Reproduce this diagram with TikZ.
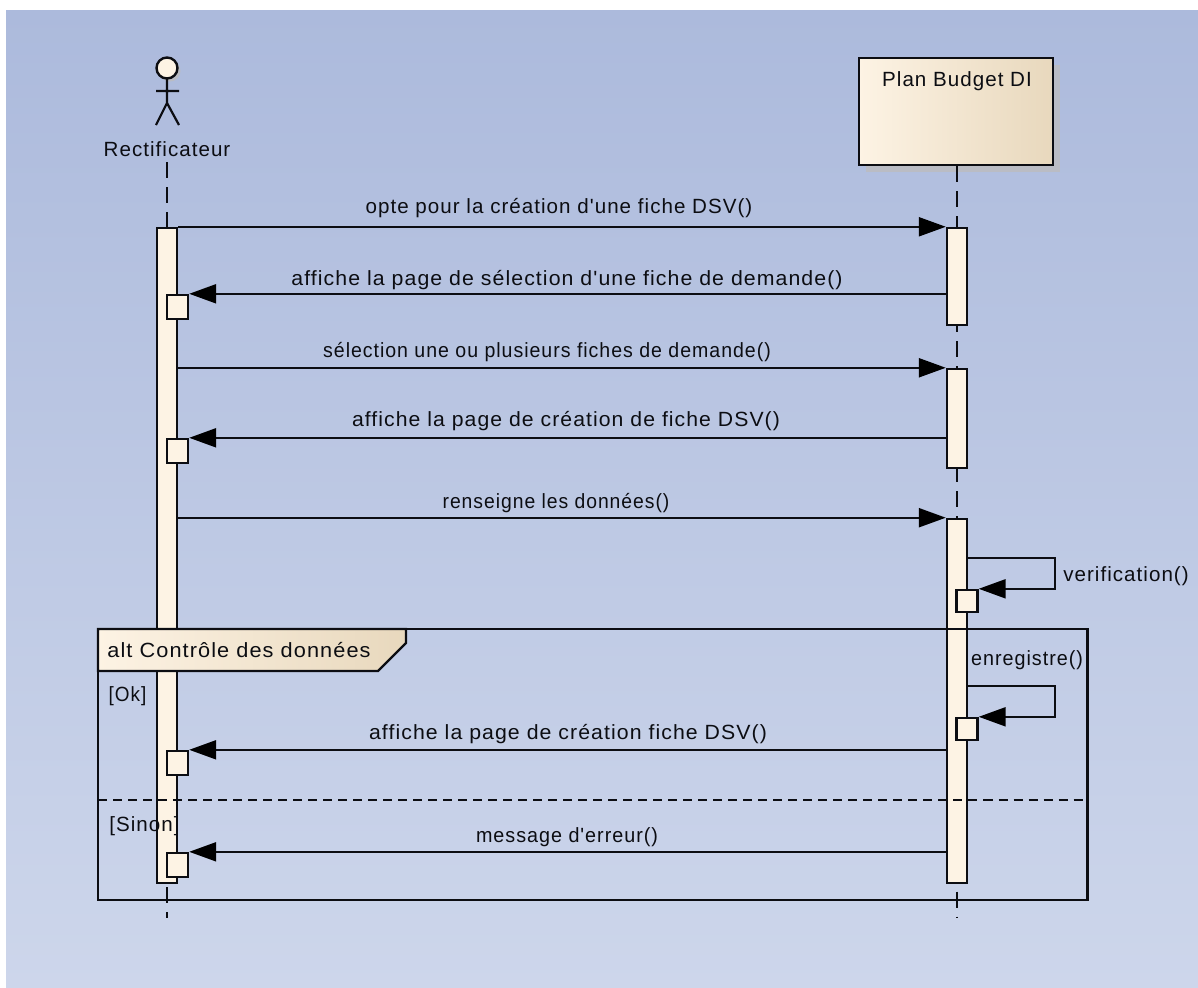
\documentclass[tikz,border=0pt]{standalone}
\usepackage{fontspec}
\newfontfamily\diagramfont[LetterSpace=5]{Liberation Sans}
\usetikzlibrary{arrows.meta}
\definecolor{skyTop}{RGB}{172,186,220}
\definecolor{skyBottom}{RGB}{205,214,235}
\definecolor{creamLight}{RGB}{253,243,228}
\definecolor{creamDark}{RGB}{232,216,189}
\definecolor{inkLine}{RGB}{12,13,18}
\definecolor{shadowGrey}{RGB}{186,188,196}
\newcommand{\widen}[2]{\scalebox{#1}[1]{#2}}
\tikzset{
  txt/.style={font=\diagramfont\fontsize{5.85}{7}\selectfont,text=inkLine,inner sep=0pt},
  lifeline/.style={draw=inkLine,line width=0.02cm,dash pattern=on 0.16cm off 0.09cm},
  bar/.style={draw=inkLine,line width=0.024cm,fill=creamLight,minimum width=0.2cm,inner sep=0pt},
  smallbox/.style={bar,minimum width=0.21cm,minimum height=0.24cm},
  msg/.style={draw=inkLine,line width=0.022cm,-{Triangle[length=0.27cm,width=0.19cm,color=black]}},
}
\begin{document}
\begin{tikzpicture}[x=0.01cm,y=-0.01cm]
      \useasboundingbox (0,0) rectangle (1198,987);
      \shade[top color=skyTop,bottom color=skyBottom] (6,10) rectangle (1198,987);

      % actor
      \fill[shadowGrey] (170,71) circle (10.5);
      \draw[inkLine,line width=0.024cm,fill=creamLight] (167,68) circle (10.5);
      \draw[inkLine,line width=0.022cm] (167,79)--(167,103) (156,91)--(179,91) (156,125)--(167,103)--(179,125);
      \node[txt] (rectificateur) at (167,149) {Rectificateur};

      % object
      \fill[shadowGrey] (866,65) rectangle (1060,172);
      \node[draw=inkLine,line width=0.024cm,minimum width=1.94cm,minimum height=1.07cm,inner sep=0pt,
        left color=creamLight,middle color=creamLight,right color=creamDark] (plan) at (956,111.5) {};
      \node[txt] (planLabel) at (957,81) {Plan Budget DI};

      % lifelines
      \coordinate (startA) at (167,162);
      \coordinate (endA) at (167,918);
      \coordinate (endB) at (957,918);
      \draw[lifeline] (startA)--(endA);
      \draw[lifeline] (plan.south -| endB)--(endB);

      % activations
      \node[bar,minimum height=6.55cm] (barA) at (167,555.5) {};
      \node[bar,minimum height=0.97cm] (barB1) at (957,276.5) {};
      \node[bar,minimum height=0.99cm] (barB2) at (957,418.5) {};
      \node[bar,minimum height=3.64cm] (barB3) at (957,701) {};
      \node[smallbox] (boxA1) at (177.5,307) {};
      \node[smallbox] (boxA2) at (177.5,451) {};
      \node[smallbox] (boxA3) at (177.5,763) {};
      \node[smallbox] (boxA4) at (177.5,865) {};
      \node[smallbox,minimum height=0.22cm] (boxB1) at (967,601) {};
      \node[smallbox,minimum height=0.22cm] (boxB2) at (967,729) {};

      % messages
      \draw[msg] (barB1.north west -| barA.east)--(barB1.north west);
      \draw[msg] (boxA1.north east -| barB1.west)--(boxA1.north east);
      \draw[msg] (barB2.north west -| barA.east)--(barB2.north west);
      \draw[msg] (boxA2.north east -| barB2.west)--(boxA2.north east);
      \draw[msg] (barB3.north west -| barA.east)--(barB3.north west);
      \draw[msg] (boxA3.north east -| barB3.west)--(boxA3.north east);
      \draw[msg] (boxA4.north east -| barB3.west)--(boxA4.north east);

      % self calls
      \coordinate (selfA) at (1055,558);
      \coordinate (selfB) at (1055,686);
      \draw[msg] (selfA -| barB3.east)--(selfA)--(selfA |- boxB1.north)--(boxB1.north east);
      \draw[msg] (selfB -| barB3.east)--(selfB)--(selfB |- boxB2.north)--(boxB2.north east);

      % alt frame
      \draw[inkLine,line width=0.024cm,left color=creamLight,middle color=creamLight,right color=creamDark]
        (98,629)--(406,629)--(406,643)--(378,671)--(98,671)--cycle;
      \node[draw=inkLine,line width=0.024cm,minimum width=9.89cm,minimum height=2.71cm,inner sep=0pt] (altFrame) at (592.5,764.5) {};
      \coordinate (altSplit) at (98,800);
      \draw[inkLine,line width=0.016cm,dash pattern=on 0.09cm off 0.06cm] (altSplit)--(altSplit -| altFrame.east);

      % labels
      \node[txt] (msgOne) at (559,208) {opte pour la création d'une fiche DSV()};
      \node[txt] (msgTwo) at (567,280) {\widen{1.035}{affiche la page de sélection d'une fiche de demande()}};
      \node[txt] (msgThree) at (547,352) {\widen{0.95}{sélection une ou plusieurs fiches de demande()}};
      \node[txt] (msgFour) at (566,421) {\widen{1.03}{affiche la page de création de fiche DSV()}};
      \node[txt] (msgFive) at (556,503) {\widen{0.94}{renseigne les données()}};
      \node[txt] (msgSix) at (1126,576) {verification()};
      \node[txt] (msgSeven) at (1027,660) {\widen{0.96}{enregistre()}};
      \node[txt] (msgEight) at (568,734) {\widen{1.034}{affiche la page de création fiche DSV()}};
      \node[txt] (msgNine) at (567,837) {\widen{0.96}{message d'erreur()}};
      \node[txt] (altLabel) at (239,650) {\widen{1.056}{alt Contrôle des données}};
      \node[txt] (okLabel) at (127.5,696) {\widen{0.92}{[Ok]}};
      \node[txt] (sinonLabel) at (144.5,826) {[Sinon]};
\end{tikzpicture}
\end{document}
